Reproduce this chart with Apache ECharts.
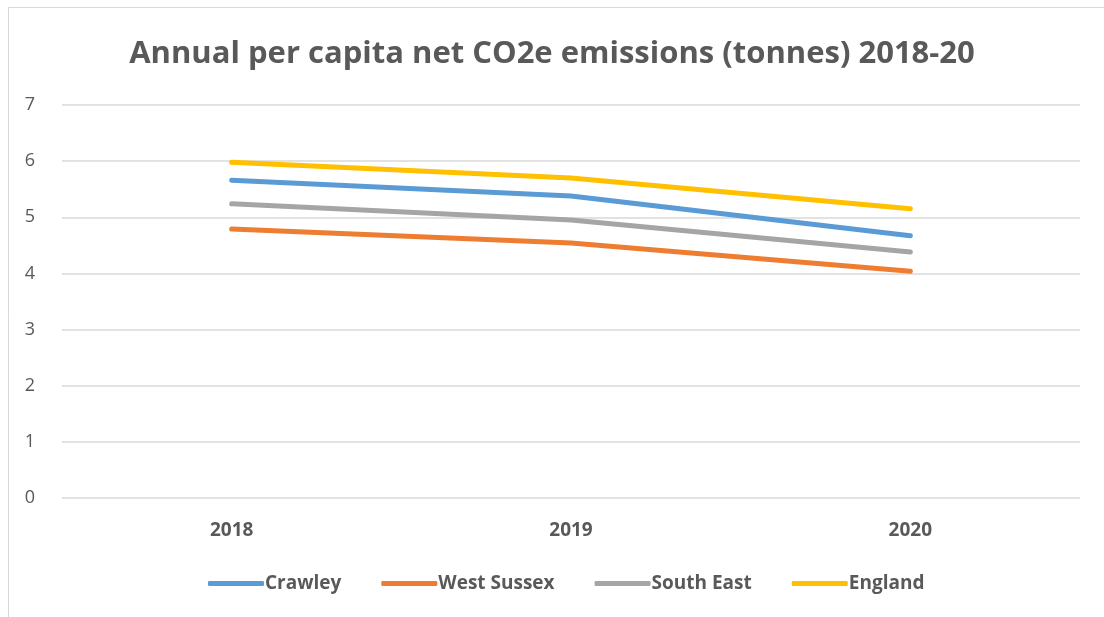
<!DOCTYPE html>
<html lang="en">
<head>
    <meta charset="UTF-8">
    <title>Annual per capita net CO2e emissions</title>
    <script src="https://cdn.jsdelivr.net/npm/echarts@6/dist/echarts.min.js"></script>
    <style>
        html, body { margin: 0; padding: 0; background: #fff; }
        #chart { width: 1104px; height: 617px; }
    </style>
</head>
<body>
    <div id="chart"></div>
    <script type="text/javascript">
        var years = ['2018', '2019', '2020'];
        var crawley = [5.66, 5.38, 4.67];
        var westSussex = [4.79, 4.54, 4.04];
        var southEast = [5.24, 4.95, 4.38];
        var england = [5.98, 5.70, 5.15];

        var seriesNames = ['Crawley', 'West Sussex', 'South East', 'England'];
        var seriesData = [crawley, westSussex, southEast, england];
        var colors = ['#5b9bd5', '#ed7d31', '#a5a5a5', '#ffc000'];

        var font = '"Open Sans", "Liberation Sans", sans-serif';

        var myChart = echarts.init(document.getElementById('chart'));

        var option = {
            color: colors,
            animation: false,
            title: {
                text: 'Annual per capita net CO2e emissions (tonnes) 2018-20',
                left: 'center',
                top: 34,
                textStyle: { fontFamily: font, fontSize: 31, fontWeight: 'bold', color: '#595959' }
            },
            // chart frame (only left/top edges visible in the picture)
            graphic: [{
                type: 'rect',
                shape: { x: 8.5, y: 7.5, width: 1200, height: 700 },
                style: { fill: 'none', stroke: '#d9d9d9', lineWidth: 1 },
                silent: true
            }],
            legend: {
                bottom: 19,
                left: 203,
                itemWidth: 56,
                itemHeight: 5,
                itemGap: 40,
                icon: 'roundRect',
                textStyle: { fontFamily: font, fontSize: 19, fontWeight: 'bold', color: '#595959', padding: [0, 0, 0, -4] },
                data: seriesNames
            },
            grid: { left: 62, right: 24, top: 105, bottom: 119 },
            xAxis: {
                type: 'category',
                data: years,
                boundaryGap: true,
                axisLine: { show: false },
                axisTick: { show: false },
                axisLabel: { margin: 23, fontFamily: font, fontSize: 19, fontWeight: 'bold', color: '#595959' }
            },
            yAxis: {
                type: 'value',
                min: 0,
                max: 7,
                interval: 1,
                axisLine: { show: false },
                axisTick: { show: false },
                axisLabel: { margin: 27, fontFamily: font, fontSize: 18, color: '#595959' },
                splitLine: { lineStyle: { color: '#d9d9d9', width: 1.5 } }
            },
            series: seriesNames.map(function (name, i) {
                return {
                    name: name,
                    type: 'line',
                    data: seriesData[i],
                    symbol: 'none',
                    lineStyle: { width: 5, cap: 'round', join: 'round' }
                };
            })
        };

        myChart.setOption(option);
    </script>
</body>
</html>
